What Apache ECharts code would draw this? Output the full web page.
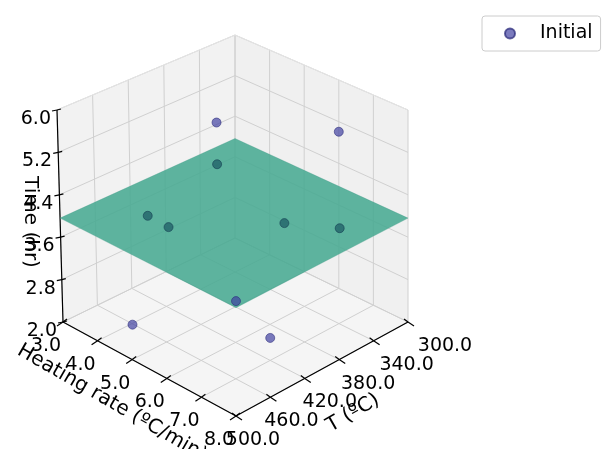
<!DOCTYPE html>
<html><head><meta charset="utf-8">
<script src="https://cdn.jsdelivr.net/npm/echarts@6/dist/echarts.min.js"></script>
<style>html,body{margin:0;padding:0;background:#fff}#c{width:616px;height:449px}</style>
</head><body><div id="c"></div>
<script>
const T_ticks = [300, 340, 380, 420, 460, 500];
const H_ticks = [3, 4, 5, 6, 7, 8];
const Z_ticks = [2.0, 2.8, 3.6, 4.4, 5.2, 6.0];
const T_vals = [410, 340, 370, 430, 458, 391, 319, 500, 499, 440];
const H_vals = [5.25, 7.0, 4.25, 3.75, 5.05, 6.7, 6.5, 8.0, 5.0, 7.5];
const time_vals = [5.81, 5.62, 4.4, 3.72, 4.15, 4.22, 3.47, 4.08, 2.64, 2.75];
const below_plane = [false, false, true, true, true, true, true, false, false, false];
const plane_time = 3.96;

function proj(T, H, z) {
  const tp = (500 - T) / 200, hp = (8 - H) / 5, zp = (z - 2) / 4;
  const s = tp + hp;
  const zs = 221 - 9 * s;
  return [236 + 172 * tp - 173 * hp - 6 * zp * (1 - tp) * hp, 416 - 94 * tp - 94 * hp + 10 * tp * hp - zs * zp];
}

const chart = echarts.init(document.getElementById('c'));
const font = 'DejaVu Sans';

function staticItems(api) {
  const c = p => api.coord(p);
  const P = (T, H, z) => c(proj(T, H, z));
  const els = [];
  const poly = (pts, fill) => els.push({type: 'polygon', shape: {points: pts}, style: {fill: fill, stroke: null}});
  const line = (a, b, col, w) => els.push({type: 'line', shape: {x1: a[0], y1: a[1], x2: b[0], y2: b[1]}, style: {stroke: col, lineWidth: w || 1}});
  poly([P(500,8,2),P(300,8,2),P(300,3,2),P(500,3,2)], '#f5f5f5');
  poly([P(500,3,2),P(300,3,2),P(300,3,6),P(500,3,6)], '#f2f2f2');
  poly([P(300,8,2),P(300,3,2),P(300,3,6),P(300,8,6)], '#f0f0f0');
  const g = '#d0d0d0';
  T_ticks.forEach(t => { line(P(t,8,2), P(t,3,2), g); line(P(t,3,2), P(t,3,6), g); });
  H_ticks.forEach(h => { line(P(500,h,2), P(300,h,2), g); line(P(300,h,2), P(300,h,6), g); });
  Z_ticks.forEach(z => { line(P(500,3,z), P(300,3,z), g); line(P(300,3,z), P(300,8,z), g); });
  line(P(500,3,6), P(300,3,6), '#e4e4e4'); line(P(300,3,6), P(300,8,6), '#e4e4e4');
  line(P(500,8,2), P(300,8,2), '#000', 1.2);
  line(P(500,8,2), P(500,3,2), '#000', 1.2);
  line(P(500,3,2), P(500,3,6), '#000', 1.2);
  const txt = (x, y, s, align, rot, size) => els.push({type: 'text', x: x, y: y, rotation: rot || 0,
    style: {text: s, fill: '#000', fontSize: size || 19, fontFamily: font, align: align || 'center', verticalAlign: 'middle'}});
  T_ticks.forEach(t => {
    const a = P(t,8,2); const tp = (500 - t) / 200;
    line(a, [a[0] + 6, a[1] + 4], '#000', 1.2); line(a, [a[0] - 4, a[1] - 3], '#000', 1.2);
    txt(a[0] + 17 + 20 * tp, a[1] + 24, t.toFixed(1));
  });
  H_ticks.forEach(h => {
    const a = P(500,h,2);
    line(a, [a[0] - 6, a[1] + 4], '#000', 1.2); line(a, [a[0] + 4, a[1] - 3], '#000', 1.2);
    txt(a[0] - 17, a[1] + 24, h.toFixed(1));
  });
  Z_ticks.forEach(z => {
    const a = P(500,3,z);
    line(a, [a[0] - 5, a[1] + 1], '#000', 1.2); line(a, [a[0] + 4, a[1] - 1], '#000', 1.2);
    txt(a[0] - 6, a[1] + 9, z.toFixed(1), 'right');
  });
  const tc = c([353, 413]); txt(tc[0], tc[1], 'T (ºC)', 'center', Math.PI / 6, 20);
  const hc = c([112, 403]); txt(hc[0], hc[1], 'Heating rate (ºC/min)', 'center', -Math.PI / 6, 20);
  const zc = c([30, 222]); txt(zc[0], zc[1], 'Time (hr)', 'center', -Math.PI / 2, 20);
  return els;
}

function planeItem(api) {
  const P = (T, H, z) => api.coord(proj(T, H, z));
  return {type: 'polygon', shape: {points: [P(500,8,plane_time), P(300,8,plane_time), P(300,3,plane_time), P(500,3,plane_time)]},
    style: {fill: 'rgba(72,170,146,0.88)', stroke: 'rgba(60,150,130,0.6)', lineWidth: 0.5}};
}

const frontPts = [], backPts = [];
T_vals.forEach((t, i) => {
  const p = proj(t, H_vals[i], time_vals[i]);
  (below_plane[i] ? backPts : frontPts).push(p);
});

chart.setOption({
  animation: false,
  grid: {left: 0, right: 0, top: 0, bottom: 0},
  xAxis: {type: 'value', min: 0, max: 616, show: false},
  yAxis: {type: 'value', min: 0, max: 449, inverse: true, show: false},
  legend: {data: ['Initial'], left: 482, top: 16, orient: 'vertical', borderColor: '#ccc', borderWidth: 1, borderRadius: 3,
    padding: [8, 8, 8, 22], itemGap: 6, itemWidth: 10, itemHeight: 10,
    textStyle: {fontSize: 19, fontFamily: font, color: '#000', padding: [0, 0, 0, 20]}},
  series: [
    {type: 'custom', name: 'frame', coordinateSystem: 'cartesian2d', data: [[0, 0]], z: 1, silent: true,
      renderItem: (p, api) => ({type: 'group', children: staticItems(api)})},
    {type: 'custom', name: 'plane', coordinateSystem: 'cartesian2d', data: [[0, 0]], z: 3, silent: true,
      renderItem: (p, api) => planeItem(api)},
    {type: 'scatter', name: 'behind', data: backPts, z: 4, symbolSize: 9,
      itemStyle: {color: 'rgba(28,90,100,0.9)', borderColor: 'rgba(20,60,80,0.9)', borderWidth: 0.8}},
    {type: 'scatter', name: 'Initial', data: frontPts, z: 5, symbolSize: 9,
      itemStyle: {color: 'rgba(62,62,160,0.85)', borderColor: 'rgba(40,40,120,0.9)', borderWidth: 0.8}}
  ]
});
</script></body></html>
